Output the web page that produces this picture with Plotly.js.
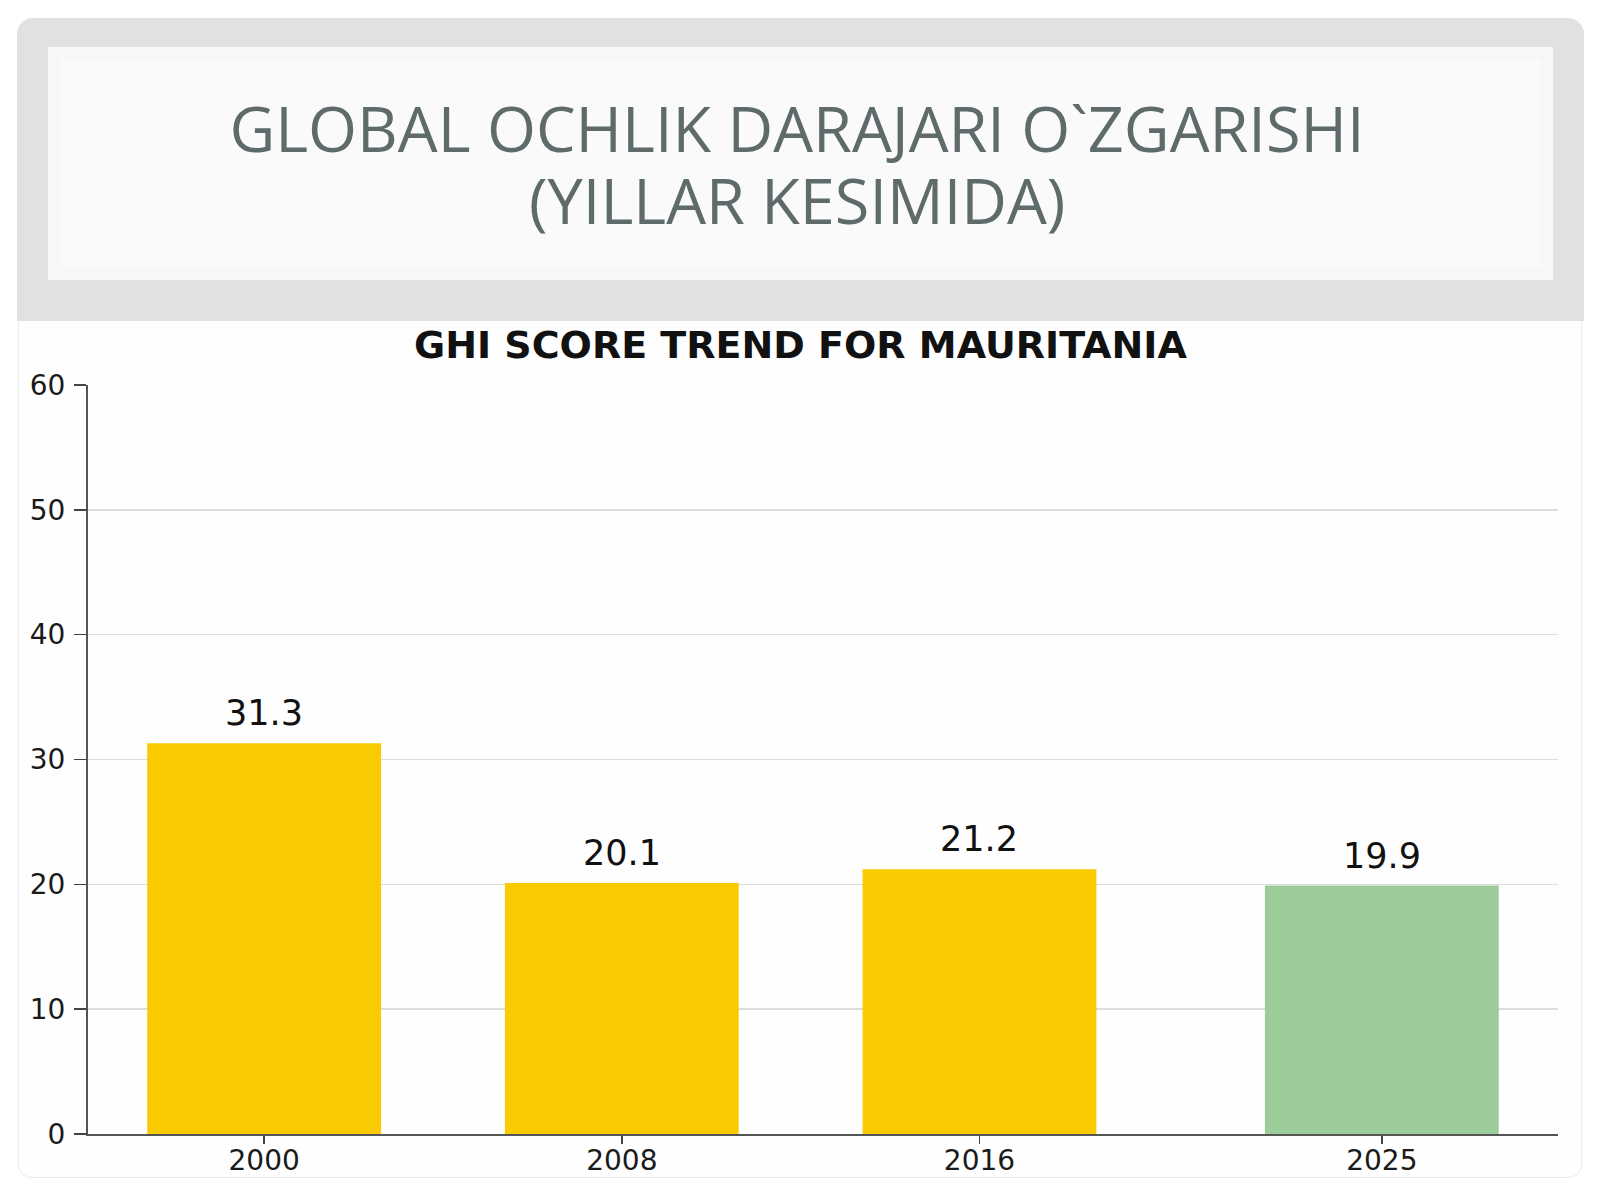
<!DOCTYPE html>
<html>
<head>
<meta charset="utf-8">
<script src="https://cdn.plot.ly/plotly-3.0.1.min.js"></script>
<style>
  html, body { margin: 0; padding: 0; background: #ffffff; }
  #wrap { position: relative; width: 1600px; height: 1200px; overflow: hidden; }
  .outer { position: absolute; left: 17px; top: 18px; width: 1567px; height: 303px;
           background: #e1e1e1; border-radius: 16px 16px 0 0; }
  .inner { position: absolute; left: 48px; top: 47px; width: 1505px; height: 233px;
           background: #fafafa; box-shadow: inset 0 0 0 12px #f7f7f7; }
  .panel { position: absolute; left: 18px; top: 321px; width: 1562px; height: 856px;
           background: #fefefe; border: 1px solid #ececec; border-top: none;
           border-radius: 0 0 14px 14px; }
  #chart { position: absolute; left: 0; top: 0; width: 1600px; height: 1200px; }
</style>
</head>
<body>
<div id="wrap">
  <div class="outer"></div>
  <div class="inner"></div>
  <div class="panel"></div>
  <div id="chart"></div>
</div>
<script>
// ---- data ----
const years = [2000, 2008, 2016, 2025];
const scores = [31.3, 20.1, 21.2, 19.9];
const scoreLabels = ['31.3', '20.1', '21.2', '19.9'];
const barColors = ['#facb00', '#facb00', '#facb00', '#9ccc99'];
const yTicks = [0, 10, 20, 30, 40, 50, 60];
const xTickText = ['2000', '2008', '2016', '2025'];
const mainTitleLine1 = 'GLOBAL OCHLIK DARAJARI O`ZGARISHI';
const mainTitleLine2 = '(YILLAR KESIMIDA)';
const chartTitle = 'GHI SCORE TREND FOR MAURITANIA';

const trace = {
  type: 'bar',
  x: years,
  y: scores,
  width: 5.23,
  marker: { color: barColors, line: { width: 0 } },
  hoverinfo: 'x+y'
};

const titleFont = { family: 'Open Sans', size: 63, color: '#5f6b6b' };

const annotations = years.map((yr, i) => ({
  x: yr, y: scores[i], xref: 'x', yref: 'y',
  text: scoreLabels[i], showarrow: false,
  yanchor: 'bottom', yshift: 8,
  font: { family: 'DejaVu Sans', size: 35, color: '#111111' }
}));
annotations.push({
  xref: 'paper', yref: 'paper',
  x: (797 - 88) / 1470, y: (1134 - 200) / 749,
  xanchor: 'center', yanchor: 'middle',
  text: mainTitleLine2, showarrow: false,
  font: titleFont
});
annotations.push({
  xref: 'paper', yref: 'paper',
  x: (800 - 88) / 1470, y: (1134 - 345) / 749,
  xanchor: 'center', yanchor: 'middle',
  text: '<b>' + chartTitle + '</b>', showarrow: false,
  font: { family: 'DejaVu Sans', size: 38, color: '#111111' }
});

const layout = {
  width: 1600, height: 1200,
  margin: { l: 88, r: 42, t: 385, b: 66, pad: 0 },
  paper_bgcolor: 'rgba(0,0,0,0)',
  plot_bgcolor: 'rgba(0,0,0,0)',
  showlegend: false,
  title: {
    text: mainTitleLine1,
    font: titleFont,
    xref: 'container', yref: 'container',
    x: 797 / 1600, y: 1 - 130 / 1200,
    xanchor: 'center', yanchor: 'middle'
  },
  xaxis: {
    range: [1996.06, 2028.94],
    tickmode: 'array', tickvals: years, ticktext: xTickText,
    ticks: 'outside', ticklen: 8, tickwidth: 1.5, tickcolor: '#444444',
    showline: true, linecolor: '#555555', linewidth: 2,
    showgrid: false, zeroline: false,
    ticklabelstandoff: -8,
    tickfont: { family: 'DejaVu Sans', size: 28, color: '#1a1a1a' },
    fixedrange: true
  },
  yaxis: {
    range: [0, 60],
    tickmode: 'array', tickvals: yTicks,
    ticks: 'outside', ticklen: 12, tickwidth: 1.5, tickcolor: '#444444',
    showline: true, linecolor: '#555555', linewidth: 2,
    showgrid: true, gridcolor: '#dddddd', gridwidth: 1.5,
    zeroline: false,
    ticklabelstandoff: 3,
    tickfont: { family: 'DejaVu Sans', size: 28, color: '#1a1a1a' },
    fixedrange: true
  },
  annotations: annotations
};

Plotly.newPlot('chart', [trace], layout, { displayModeBar: false, staticPlot: true });
</script>
</body>
</html>
